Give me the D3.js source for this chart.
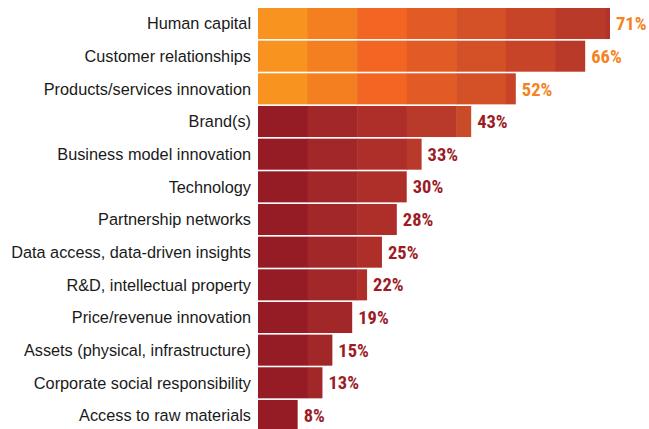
<!DOCTYPE html>
<html>
<head>
<meta charset="utf-8">
<script src="https://cdn.jsdelivr.net/npm/d3@7.9.0/dist/d3.min.js"></script>
<style>
  html, body { margin: 0; padding: 0; background: #fff; }
  svg { display: block; }
</style>
</head>
<body>
<svg id="chart"></svg>
<script>
const categories = [
  "Human capital",
  "Customer relationships",
  "Products/services innovation",
  "Brand(s)",
  "Business model innovation",
  "Technology",
  "Partnership networks",
  "Data access, data-driven insights",
  "R&D, intellectual property",
  "Price/revenue innovation",
  "Assets (physical, infrastructure)",
  "Corporate social responsibility",
  "Access to raw materials"
];
const values = [71, 66, 52, 43, 33, 30, 28, 25, 22, 19, 15, 13, 8];
const highlighted = [true, true, true, false, false, false, false, false, false, false, false, false, false];

// shade of each 10-point band
const orangeBands = ["#f7931e", "#f47f20", "#f26522", "#e35b24", "#d45027", "#c74428", "#ba3a2a", "#b5312b"];
const redBands = ["#951b24", "#a12728", "#ae2f2a", "#b9392a", "#c94b28", "#d35027", "#dd5625", "#e35b24"];

const W = 649, H = 429;
const svg = d3.select("#chart").attr("width", W).attr("height", H);

const x = d3.scaleLinear().domain([0, 71]).range([258, 610]);
const y = d3.scaleBand().domain(categories).range([8, 431]).paddingInner(0.05).paddingOuter(0);

const data = categories.map((c, i) => ({ cat: c, value: values[i], hi: highlighted[i] }));

const rows = svg.selectAll("g.row").data(data).join("g").attr("class", "row");

rows.each(function (d) {
  const g = d3.select(this);
  const bands = d3.range(0, d.value, 10).map(s => [s, Math.min(s + 10, d.value)]);
  const pal = d.hi ? orangeBands : redBands;
  g.selectAll("rect").data(bands).join("rect")
    .attr("x", b => x(b[0]))
    .attr("width", b => x(b[1]) - x(b[0]) + (b[1] < d.value ? 0.5 : 0))
    .attr("y", y(d.cat))
    .attr("height", y.bandwidth())
    .attr("fill", (b, i) => pal[i]);
});

rows.append("text")
  .attr("x", 251)
  .attr("y", d => y(d.cat) + y.bandwidth() / 2)
  .attr("dy", "0.35em")
  .attr("text-anchor", "end")
  .attr("font-family", "'Liberation Sans', Arial, sans-serif")
  .attr("font-size", 16.3)
  .attr("fill", "#1a1a1a")
  .text(d => d.cat);

rows.append("text")
  .attr("x", d => x(d.value) + 6)
  .attr("y", d => y(d.cat) + y.bandwidth() / 2)
  .attr("dy", "0.36em")
  .attr("font-family", "'Liberation Sans Narrow', 'Roboto Condensed', sans-serif")
  .attr("font-weight", "bold")
  .attr("font-size", 18.5)
  .attr("fill", d => d.hi ? "#f58220" : "#9b1c26")
  .text(d => d.value + "%");
</script>
</body>
</html>
